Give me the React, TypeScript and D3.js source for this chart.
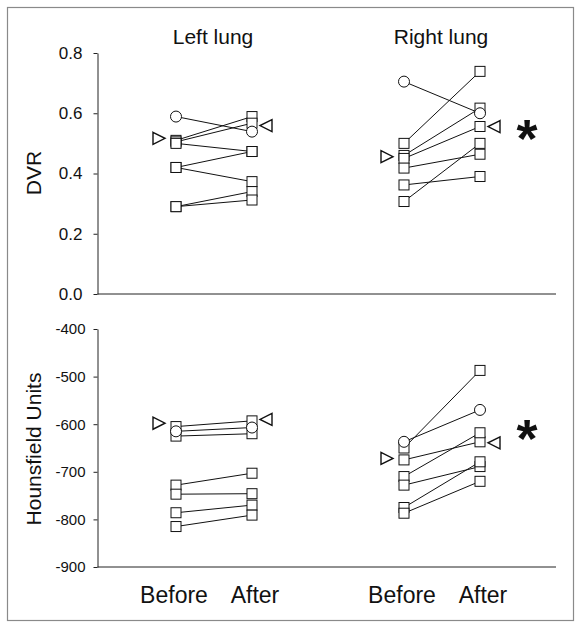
import React, { useEffect, useRef } from "react";
import * as d3 from "d3";

const lungs = ["Left lung", "Right lung"];
const phases = ["Before", "After"];

const dvrTicks = [0, 0.2, 0.4, 0.6, 0.8];
const huTicks = [-900, -800, -700, -600, -500, -400];

// DVR, left lung (squares paired before -> after)
const dvrLeftSqBefore = [0.51, 0.505, 0.5, 0.42, 0.42, 0.29, 0.29];
const dvrLeftSqAfter = [0.589, 0.567, 0.473, 0.473, 0.373, 0.34, 0.312];
const dvrLeftCircle = [0.589, 0.539];
const dvrLeftTri = [0.517, 0.559];
// DVR, right lung
const dvrRightSqBefore = [0.5, 0.46, 0.45, 0.418, 0.362, 0.307];
const dvrRightSqAfter = [0.739, 0.617, 0.556, 0.464, 0.39, 0.5];
const dvrRightCircle = [0.705, 0.6];
const dvrRightTri = [0.456, 0.556];

// Hounsfield units, left lung
const huLeftSqBefore = [-605, -625, -728, -747, -786, -815];
const huLeftSqAfter = [-593, -620, -703, -746, -770, -791];
const huLeftCircle = [-615, -607];
const huLeftTri = [-598, -590];
// Hounsfield units, right lung
const huRightSqBefore = [-650, -675, -710, -728, -775, -787];
const huRightSqAfter = [-487, -637, -618, -689, -679, -720];
const huRightCircle = [-637, -570];
const huRightTri = [-672, -639];

const FONT = "'Liberation Sans', Arial, Helvetica, sans-serif";

const x = d3.scaleLinear().domain([0, 4]).range([176, 480]);
const pos = (lung: number, phase: number) => x(lung * 3 + phase);
const yDvr = d3.scaleLinear().domain([0, 0.8]).range([294, 53]);
const yHu = d3.scaleLinear().domain([-900, -400]).range([567, 329]);

type Group = { lung: number; sqB: number[]; sqA: number[]; circ: number[]; tri: number[] };

const panels = [
  {
    y: yDvr,
    ticks: dvrTicks,
    fmt: d3.format(".1f"),
    label: "DVR",
    labelY: 173,
    tickFont: 17,
    pad: 11,
    starY: 157,
    groups: [
      { lung: 0, sqB: dvrLeftSqBefore, sqA: dvrLeftSqAfter, circ: dvrLeftCircle, tri: dvrLeftTri },
      { lung: 1, sqB: dvrRightSqBefore, sqA: dvrRightSqAfter, circ: dvrRightCircle, tri: dvrRightTri },
    ] as Group[],
  },
  {
    y: yHu,
    ticks: huTicks,
    fmt: (d: number) => String(d).replace("\u2212", "-"),
    label: "Hounsfield Units",
    labelY: 449,
    tickFont: 15,
    pad: 8,
    starY: 457,
    groups: [
      { lung: 0, sqB: huLeftSqBefore, sqA: huLeftSqAfter, circ: huLeftCircle, tri: huLeftTri },
      { lung: 1, sqB: huRightSqBefore, sqA: huRightSqAfter, circ: huRightCircle, tri: huRightTri },
    ] as Group[],
  },
];

const SQ = 10;
const triPath = (cx: number, cy: number, dir: number) => {
  const w = 12, h = 12;
  const p = d3.path();
  p.moveTo(cx - (dir * w) / 2, cy - h / 2);
  p.lineTo(cx + (dir * w) / 2, cy);
  p.lineTo(cx - (dir * w) / 2, cy + h / 2);
  p.closePath();
  return p.toString();
};

function Axis({ scale, ticks, fmt, fontSize, pad }: any) {
  const ref = useRef<SVGGElement>(null);
  useEffect(() => {
    const g = d3.select(ref.current!);
    g.call(
      d3
        .axisLeft(scale)
        .tickValues(ticks)
        .tickFormat(fmt)
        .tickSize(4)
        .tickSizeOuter(0)
        .tickPadding(pad)
    );
    g.select(".domain").attr("stroke", "#222");
    g.selectAll(".tick line").attr("stroke", "#222");
    g.selectAll(".tick text")
      .attr("font-family", FONT)
      .attr("font-size", fontSize)
      .attr("fill", "#111");
  }, []);
  return <g ref={ref} transform="translate(97.5,0)" />;
}

export default function App() {
  return (
    <svg
      width={581}
      height={628}
      style={{ position: "absolute", left: 0, top: 0, background: "#fff" }}
      fontFamily={FONT}
    >
      <rect x={7.5} y={7.5} width={566} height={613} fill="none" stroke="#8a8a8a" strokeWidth={1.2} />
      {lungs.map((l, i) => (
        <text key={l} x={(pos(i, 0) + pos(i, 1)) / 2 - 1} y={44} fontSize={21} textAnchor="middle" fill="#111">
          {l}
        </text>
      ))}
      {panels.map((p, pi) => {
        const y = p.y;
        const base = y.range()[0];
        return (
          <g key={pi}>
            <Axis scale={y} ticks={p.ticks} fmt={p.fmt} fontSize={p.tickFont} pad={p.pad} />
            <line x1={97.5} x2={556} y1={base} y2={base} stroke="#222" strokeWidth={1} />
            <text
              transform={`translate(33,${p.labelY}) rotate(-90)`}
              textAnchor="middle"
              dy="0.36em"
              fontSize={21}
              fill="#111"
            >
              {p.label}
            </text>
            {p.groups.map((g) => {
              const xb = pos(g.lung, 0);
              const xa = pos(g.lung, 1);
              return (
                <g key={g.lung}>
                  {g.sqB.map((v, k) => (
                    <line key={"l" + k} x1={xb} x2={xa} y1={y(v)} y2={y(g.sqA[k])} stroke="#111" strokeWidth={1} />
                  ))}
                  <line x1={xb} x2={xa} y1={y(g.circ[0])} y2={y(g.circ[1])} stroke="#111" strokeWidth={1} />
                  {g.sqB.map((v, k) => (
                    <rect key={"b" + k} x={xb - SQ / 2} y={y(v) - SQ / 2} width={SQ} height={SQ} fill="#fff" stroke="#111" strokeWidth={1} />
                  ))}
                  {g.sqA.map((v, k) => (
                    <rect key={"a" + k} x={xa - SQ / 2} y={y(v) - SQ / 2} width={SQ} height={SQ} fill="#fff" stroke="#111" strokeWidth={1} />
                  ))}
                  <circle cx={xb} cy={y(g.circ[0])} r={5.5} fill="#fff" stroke="#111" strokeWidth={1} />
                  <circle cx={xa} cy={y(g.circ[1])} r={5.5} fill="#fff" stroke="#111" strokeWidth={1} />
                  <path d={triPath(xb - 17, y(g.tri[0]), 1)} fill="#fff" stroke="#111" strokeWidth={1.4} />
                  <path d={triPath(xa + 14, y(g.tri[1]), -1)} fill="#fff" stroke="#111" strokeWidth={1.4} />
                </g>
              );
            })}
            <text x={527} y={p.starY} fontSize={54} fontWeight="bold" textAnchor="middle" fill="#111">
              *
            </text>
          </g>
        );
      })}
      {lungs.map((l, i) =>
        phases.map((ph, j) => (
          <text key={l + ph} x={pos(i, j) + (j ? 3 : -2)} y={603} fontSize={23} textAnchor="middle" fill="#111">
            {ph}
          </text>
        ))
      )}
    </svg>
  );
}
